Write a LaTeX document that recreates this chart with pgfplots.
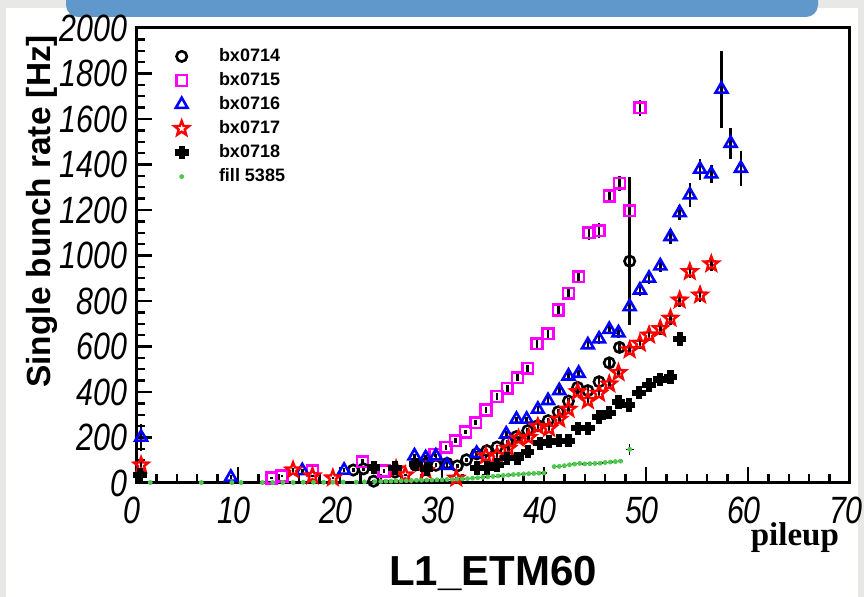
\documentclass[border=0pt]{standalone}
\usepackage{pgfplots}
\pgfplotsset{compat=1.18}
\usepackage{fontspec}
\setmainfont{Liberation Sans}
\newfontfamily\tickfont[FakeStretch=0.8]{Liberation Sans}
\newfontfamily\serifb{Liberation Serif}
\definecolor{bandblue}{RGB}{96,152,204}
\definecolor{rootgreen}{RGB}{80,200,80}
\definecolor{rootmag}{RGB}{255,0,255}
\definecolor{bggray}{RGB}{232,232,230}

\pgfdeclareplotmark{ostar}{%
  \pgfpathmoveto{\pgfpointpolar{90}{\pgfplotmarksize}}%
  \pgfpathlineto{\pgfpointpolar{126}{0.42\pgfplotmarksize}}%
  \pgfpathlineto{\pgfpointpolar{162}{\pgfplotmarksize}}%
  \pgfpathlineto{\pgfpointpolar{198}{0.42\pgfplotmarksize}}%
  \pgfpathlineto{\pgfpointpolar{234}{\pgfplotmarksize}}%
  \pgfpathlineto{\pgfpointpolar{270}{0.42\pgfplotmarksize}}%
  \pgfpathlineto{\pgfpointpolar{306}{\pgfplotmarksize}}%
  \pgfpathlineto{\pgfpointpolar{342}{0.42\pgfplotmarksize}}%
  \pgfpathlineto{\pgfpointpolar{18}{\pgfplotmarksize}}%
  \pgfpathlineto{\pgfpointpolar{54}{0.42\pgfplotmarksize}}%
  \pgfpathclose
  \pgfusepathqstroke}
\pgfdeclareplotmark{fcross}{%
  \pgfpathmoveto{\pgfpoint{-\pgfplotmarksize}{0.4\pgfplotmarksize}}%
  \pgfpathlineto{\pgfpoint{-0.4\pgfplotmarksize}{0.4\pgfplotmarksize}}%
  \pgfpathlineto{\pgfpoint{-0.4\pgfplotmarksize}{\pgfplotmarksize}}%
  \pgfpathlineto{\pgfpoint{0.4\pgfplotmarksize}{\pgfplotmarksize}}%
  \pgfpathlineto{\pgfpoint{0.4\pgfplotmarksize}{0.4\pgfplotmarksize}}%
  \pgfpathlineto{\pgfpoint{\pgfplotmarksize}{0.4\pgfplotmarksize}}%
  \pgfpathlineto{\pgfpoint{\pgfplotmarksize}{-0.4\pgfplotmarksize}}%
  \pgfpathlineto{\pgfpoint{0.4\pgfplotmarksize}{-0.4\pgfplotmarksize}}%
  \pgfpathlineto{\pgfpoint{0.4\pgfplotmarksize}{-\pgfplotmarksize}}%
  \pgfpathlineto{\pgfpoint{-0.4\pgfplotmarksize}{-\pgfplotmarksize}}%
  \pgfpathlineto{\pgfpoint{-0.4\pgfplotmarksize}{-0.4\pgfplotmarksize}}%
  \pgfpathlineto{\pgfpoint{-\pgfplotmarksize}{-0.4\pgfplotmarksize}}%
  \pgfpathclose
  \pgfusepathqfillstroke}

\pgfplotsset{
  mylegimg/.style={legend image code/.code={\draw[##1] plot coordinates {(13pt,0pt)}; \path (0pt,-3pt) (29pt,3pt);}},
}

\begin{document}
\begin{tikzpicture}
\useasboundingbox (0,0) rectangle (432pt,298.5pt);
\clip (0,0) rectangle (432pt,298.5pt);
\fill[bggray] (0,0) rectangle (432pt,298.5pt);
\fill[white] (3pt,0) rectangle (429pt,294.5pt);
\fill[bandblue, rounded corners=6pt] (33pt,290pt) rectangle (409pt,310pt);
\begin{axis}[
  at={(68pt,57pt)}, anchor=south west,
  scale only axis, width=357pt, height=227.5pt,
  xmin=0, xmax=70, ymin=0, ymax=2000,
  xtick={0,10,...,70}, ytick={0,200,...,2000},
  minor x tick num=4, minor y tick num=3,
  tick pos=left, tick align=inside,
  major tick length=8pt, minor tick length=4.5pt,
  every tick/.style={black, line width=1.2pt},
  axis line style={line width=1.5pt},
  clip mode=individual,
  /pgf/number format/assume math mode=true,
  /pgf/number format/1000 sep={},
  tick label style={font=\tickfont\itshape\fontsize{19}{19}\selectfont},
  yticklabel style={inner sep=0pt, xshift=-4pt},
  xticklabel style={inner sep=0pt, yshift=-7pt, xshift=-2pt},
  xlabel={pileup},
  xlabel style={at={(axis description cs:1,0)}, anchor=base east, yshift=-31.5pt, xshift=-2pt,
     font=\serifb\bfseries\fontsize{16.5}{16.5}\selectfont},
  ylabel={Single bunch rate [Hz]},
  ylabel style={at={(axis description cs:-0.1204,1)}, anchor=base east, rotate=0,
     font=\bfseries\fontsize{16.7}{16.7}\selectfont},
  title={L1\_ETM60},
  title style={at={(axis description cs:0.5,0)}, anchor=base, yshift=-57.5pt,
     font=\bfseries\fontsize{21}{21}\selectfont},
  legend style={at={(axis description cs:0,1)}, anchor=north west, xshift=6pt, yshift=-6pt,
     draw=none, fill=none, font=\bfseries\fontsize{9}{9}\selectfont,
     row sep=0pt, legend cell align=left},
  error bars/error bar style={black, line width=1.3pt},
  error bars/error mark=none,
]
% bx0714
\addplot[only marks, mylegimg, mark=o, mark size=2.6pt, black, line width=1.3pt,
  error bars/.cd, y dir=both, y explicit]
  table[x=x, y=y, y error plus=ep, y error minus=em] {
x y ep em
21.3 57 8 8
22.3 62 8 8
23.3 8 6 6
25.4 48 8 8
27.4 79 8 8
28.5 86 8 8
29.4 78 8 8
30.5 86 8 8
31.5 75 8 8
32.4 102 8 8
33.4 128 8 8
34.4 142 8 8
35.4 158 8 8
36.4 180 10 10
37.3 204 10 10
38.4 230 10 10
39.4 252 10 10
40.4 274 10 10
41.4 313 12 12
42.4 360 12 12
43.3 420 14 14
44.3 406 14 14
45.4 445 15 15
46.4 528 18 18
47.4 596 20 20
48.4 975 370 280
};
\addlegendentry{bx0714}
% bx0715
\addplot[only marks, mylegimg, mark=square, mark size=2.7pt, rootmag, line width=1.3pt,
  error bars/.cd, y dir=both, y explicit]
  table[x=x, y=y, y error=e] {
x y e
13.3 22 6
14.3 31 6
17.3 54 8
22.2 94 10
24.3 52 8
29.3 125 10
30.4 157 10
31.3 186 10
32.3 224 10
33.3 265 12
34.3 320 12
35.4 380 14
36.4 416 14
37.4 463 15
38.4 504 15
39.3 612 18
40.4 656 18
41.4 760 22
42.4 834 24
43.4 907 26
44.4 1100 30
45.4 1109 32
46.4 1262 30
47.4 1317 32
48.4 1197 35
49.4 1650 35
};
\addlegendentry{bx0715}
% bx0716
\addplot[only marks, mylegimg, mark=triangle, mark size=3.4pt, blue, line width=1.3pt,
  error bars/.cd, y dir=both, y explicit]
  table[x=x, y=y, y error=e] {
x y e
0.5 201 60
9.3 25 8
16.3 54 8
20.4 56 8
27.3 119 10
28.4 111 10
29.4 119 10
30.5 77 8
33.4 130 10
36.3 215 12
37.3 280 12
38.3 280 12
39.4 324 14
40.4 362 14
41.5 406 15
42.4 470 16
43.4 482 16
44.3 607 18
45.4 633 20
46.4 675 20
47.3 660 22
48.4 775 25
49.4 848 25
50.3 900 25
51.4 954 28
52.4 1083 32
53.3 1188 32
54.3 1266 52
55.3 1379 46
56.4 1358 40
57.4 1731 170
58.3 1493 68
59.3 1383 77
};
\addlegendentry{bx0716}
% bx0717
\addplot[only marks, mylegimg, mark=ostar, mark size=3.8pt, red, line width=1.2pt,
  error bars/.cd, y dir=both, y explicit]
  table[x=x, y=y, y error=e] {
x y e
0.5 79 35
15.4 57 8
17.3 31 6
19.3 22 6
25.5 62 8
26.4 35 6
28.4 54 8
31.4 21 6
34.3 119 10
35.4 121 10
36.5 152 10
37.5 196 12
38.5 200 12
39.4 248 12
40.5 240 12
41.5 280 14
42.4 324 14
43.3 401 16
44.3 362 16
45.4 394 18
46.4 435 18
47.3 485 20
48.4 585 22
49.4 614 25
50.3 650 25
51.4 678 28
52.4 724 30
53.3 804 30
54.3 929 30
55.3 826 30
56.4 963 30
};
\addlegendentry{bx0717}
% bx0718
\addplot[only marks, mylegimg, mark=fcross, mark size=3.1pt, black, line width=0.6pt,
  error bars/.cd, y dir=both, y explicit]
  table[x=x, y=y, y error=e] {
x y e
0.4 35 20
23.3 68 8
25.4 66 8
27.4 82 8
28.5 62 8
33.4 65 8
34.4 65 8
35.4 79 8
36.4 108 10
37.4 108 10
38.4 138 10
39.6 174 10
40.5 182 10
41.5 186 10
42.4 186 10
43.3 240 12
44.3 240 12
45.4 289 14
46.4 309 15
47.3 357 22
48.3 343 20
49.3 397 20
50.3 431 20
51.4 455 20
52.4 467 20
53.3 632 30
};
\addlegendentry{bx0718}
% fill 5385
\addplot[only marks, mylegimg, mark=*, mark size=1pt, rootgreen, draw=rootgreen,
  error bars/.cd, x dir=both, x explicit, y dir=both, y explicit,
  error bar style={black, line width=0.7pt}]
  table[x=x, y=y, x error=ex, y error=ey] {
x y ex ey
1.4 2 0.25 0
6.4 2 0.25 0
9.4 2 0.25 0
10.3 2 0.25 0
12.4 2 0.25 0
13.4 2 0.25 0
14.4 2 0.25 0
15.4 2 0.25 0
16.4 3 0.25 0
17.4 3 0.25 0
18.4 3 0.25 0
19.3 3 0.25 0
20.3 4 0.25 0
21.6 4 0.25 0
22.4 5 0.25 0
23.4 6 0.25 0
24.0 7 0.25 0
24.5 8 0.25 0
25.0 8 0.25 0
25.5 9 0.25 0
26.0 10 0.25 0
26.5 10 0.25 0
27.0 11 0.25 0
27.5 12 0.25 0
28.0 12 0.25 0
28.5 13 0.25 0
29.0 13 0.25 0
29.5 14 0.25 0
30.0 14 0.25 0
30.5 15 0.25 0
31.0 16 0.25 0
31.5 17 0.25 0
32.0 18 0.25 0
32.5 19 0.25 0
33.0 21 0.25 0
33.5 23 0.25 0
34.0 25 0.25 0
34.5 27 0.25 0
35.0 29 0.25 0
35.5 31 0.25 0
36.0 33 0.25 0
36.5 35 0.25 0
37.0 37 0.25 0
37.5 38 0.25 0
38.0 40 0.25 0
38.5 41 0.25 0
39.0 42 0.25 0
39.5 43 0.25 0
40.0 44 0.25 0
41.0 72 0.25 0
41.5 73 0.25 0
42.0 76 0.25 0
42.5 80 0.25 0
43.0 83 0.25 0
43.5 86 0.25 0
44.0 84 0.25 0
44.5 85 0.25 0
45.0 86 0.25 0
45.5 87 0.25 0
46.0 90 0.25 0
46.5 92 0.25 0
47.0 94 0.25 0
47.5 96 0.25 0
48.4 148 0.4 25
};
\addlegendentry{fill 5385}
\end{axis}
\end{tikzpicture}
\end{document}
